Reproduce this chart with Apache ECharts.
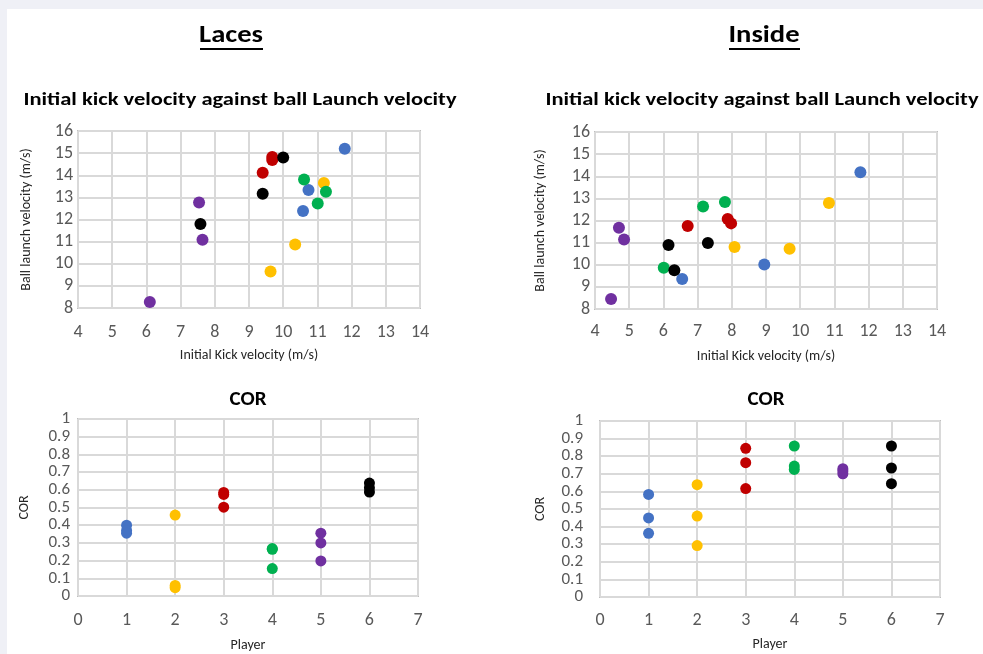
<!DOCTYPE html>
<html><head><meta charset="utf-8">
<script src="https://cdn.jsdelivr.net/npm/echarts@6/dist/echarts.min.js"></script>
<style>html,body{margin:0;padding:0;background:#eff0f6}#c{width:983px;height:654px}</style>
</head><body><div id="c"></div>
<script>
const players = [1, 2, 3, 4, 5, 6];
const playerColors = ['#4472C4', '#FFC000', '#C00000', '#00B050', '#7030A0', '#000000'];
const kickTicks = [4, 14];
const launchTicks = [8, 16];

// Laces: initial kick velocity (x) and ball launch velocity (y), per player
const lacesKick = [[11.80, 10.74, 10.58], [11.19, 10.35, 9.63], [9.68, 9.68, 9.40], [10.61, 11.25, 11.01], [7.54, 7.64, 6.10], [10.00, 9.40, 7.58]];
const lacesLaunch = [[15.20, 13.33, 12.38], [13.65, 10.87, 9.65], [14.82, 14.69, 14.11], [13.81, 13.25, 12.72], [12.77, 11.08, 8.27], [14.80, 13.16, 11.80]];
// Inside
const insideKick = [[11.76, 8.95, 6.55], [10.84, 9.69, 8.08], [7.88, 7.98, 6.71], [7.80, 7.16, 6.01], [4.70, 4.85, 4.47], [6.15, 7.30, 6.32]];
const insideLaunch = [[14.18, 10.01, 9.36], [12.79, 10.72, 10.80], [12.07, 11.87, 11.75], [12.84, 12.63, 9.86], [11.67, 11.14, 8.45], [10.89, 10.98, 9.75]];
// COR per player
const lacesCOR = [[0.40, 0.37, 0.355], [0.457, 0.06, 0.047], [0.585, 0.574, 0.502], [0.268, 0.264, 0.155], [0.355, 0.30, 0.198], [0.638, 0.611, 0.587]];
const insideCOR = [[0.583, 0.449, 0.362], [0.638, 0.46, 0.292], [0.845, 0.763, 0.616], [0.858, 0.744, 0.725], [0.729, 0.716, 0.70], [0.858, 0.733, 0.644]];

const FONT = 'Carlito, Lato, sans-serif';
const chart = echarts.init(document.getElementById('c'), null, {renderer: 'canvas'});

const grids = [
  {left: 78, top: 131, width: 342, height: 177},
  {left: 595, top: 132, width: 342, height: 177},
  {left: 78, top: 419, width: 340, height: 177},
  {left: 600, top: 421, width: 340, height: 176}
];

function xAx(i, min, max, name, gap, margin) {
  return {type: 'value', gridIndex: i, min: min, max: max, interval: 1,
    name: name, nameLocation: 'middle', nameGap: gap,
    nameTextStyle: {color: '#262626', fontSize: 14, fontFamily: FONT},
    axisLine: {show: false}, axisTick: {show: false},
    axisLabel: {color: '#595959', fontSize: 18, fontFamily: FONT, margin: margin,
      showMinLabel: true, showMaxLabel: true, hideOverlap: false},
    splitLine: {show: true, lineStyle: {color: '#d9d9d9', width: 2}}};
}
function yAx(i, min, max, interval, name, gap, margin, fs) {
  return {type: 'value', gridIndex: i, min: min, max: max, interval: interval,
    name: name, nameLocation: 'middle', nameGap: gap, nameRotate: 90,
    nameTextStyle: {color: '#262626', fontSize: 14, fontFamily: FONT},
    axisLine: {show: false}, axisTick: {show: false},
    axisLabel: {color: '#595959', fontSize: fs, fontFamily: FONT, margin: margin,
      showMinLabel: true, showMaxLabel: true, hideOverlap: false},
    splitLine: {show: true, lineStyle: {color: '#d9d9d9', width: 2}}};
}

const series = [];
function addScatter(idx, xs, ys, size) {
  players.forEach((p, k) => {
    series.push({type: 'scatter', xAxisIndex: idx, yAxisIndex: idx, symbolSize: size,
      name: 'Player ' + p,
      itemStyle: {color: playerColors[k], opacity: 1},
      data: ys[k].map((v, j) => [xs ? xs[k][j] : p, v])});
  });
}
addScatter(0, lacesKick, lacesLaunch, 12);
addScatter(1, insideKick, insideLaunch, 12);
addScatter(2, null, lacesCOR, 11);
addScatter(3, null, insideCOR, 11);

function label(x, y, text, size, sx) {
  return {type: 'text', x: x, y: y, scaleX: sx || 1,
    style: {text: text, fill: '#000', font: 'bold ' + size + 'px ' + FONT, align: 'center', verticalAlign: 'middle'}};
}

chart.setOption({
  animation: false,
  backgroundColor: '#eff0f6',
  grid: grids.map(g => Object.assign({show: true, borderColor: '#bfbfbf', borderWidth: 2, backgroundColor: 'transparent'}, g)),
  xAxis: [xAx(0, kickTicks[0], kickTicks[1], 'Initial Kick velocity (m/s)', 40, 15),
          xAx(1, kickTicks[0], kickTicks[1], 'Initial Kick velocity (m/s)', 40, 13),
          xAx(2, 0, 7, 'Player', 42, 15),
          xAx(3, 0, 7, 'Player', 40, 14)],
  yAxis: [yAx(0, launchTicks[0], launchTicks[1], 1, 'Ball launch velocity (m/s)', 45, 5, 18),
          yAx(1, launchTicks[0], launchTicks[1], 1, 'Ball launch velocity (m/s)', 48, 5, 18),
          yAx(2, 0, 1, 0.1, 'COR', 47, 8, 17),
          yAx(3, 0, 1, 0.1, 'COR', 53, 17, 17)],
  series: series,
  graphic: [
    {type: 'rect', left: 7, top: 9, z: -10, silent: true, shape: {width: 976, height: 645}, style: {fill: '#ffffff'}},
    label(231, 36, 'Laces', 24, 1.19),
    {type: 'line', shape: {x1: 200, y1: 49, x2: 263, y2: 49}, style: {stroke: '#000', lineWidth: 2}},
    label(764, 36, 'Inside', 24, 1.19),
    {type: 'line', shape: {x1: 729, y1: 49, x2: 800, y2: 49}, style: {stroke: '#000', lineWidth: 2}},
    label(240, 100, 'Initial kick velocity against ball Launch velocity', 18, 1.25),
    label(762, 100, 'Initial kick velocity against ball Launch velocity', 18, 1.25),
    label(248, 400, 'COR', 21),
    label(766, 400, 'COR', 21)
  ]
});
</script></body></html>
